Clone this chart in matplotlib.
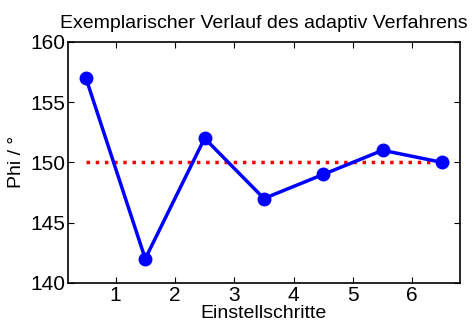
import matplotlib
matplotlib.use("Agg")
import matplotlib.pyplot as plt

schritte = [0.5, 1.5, 2.5, 3.5, 4.5, 5.5, 6.5]
phi = [157, 142, 152, 147, 149, 151, 150]
soll_x = [0.5, 6.5]
soll_y = [150, 150]

plt.rcParams['font.family'] = ['Liberation Sans', 'DejaVu Sans']

fig = plt.figure(figsize=(4.73, 3.27), dpi=100)
ax = fig.add_axes([0.144, 0.135, 0.828, 0.737])

ax.plot(soll_x, soll_y, color='red', linestyle=':', linewidth=2.5)
ax.plot(schritte, phi, color='blue', linewidth=2.5, marker='o', markersize=9)

ax.set_xlim(0.2, 6.8)
ax.set_ylim(140, 160)
ax.set_xticks([1, 2, 3, 4, 5, 6])
ax.set_yticks([140, 145, 150, 155, 160])
ax.tick_params(direction='in', top=True, right=True, labelsize=15, length=4, pad=2)
for s in ax.spines.values():
    s.set_linewidth(1.2)

ax.set_xlabel('Einstellschritte', fontsize=14, labelpad=0)
ax.set_ylabel('Phi / °', fontsize=14, labelpad=4)
ax.set_title('Exemplarischer Verlauf des adaptiv Verfahrens', fontsize=14, pad=10)

fig.savefig('out.png', dpi=100)
